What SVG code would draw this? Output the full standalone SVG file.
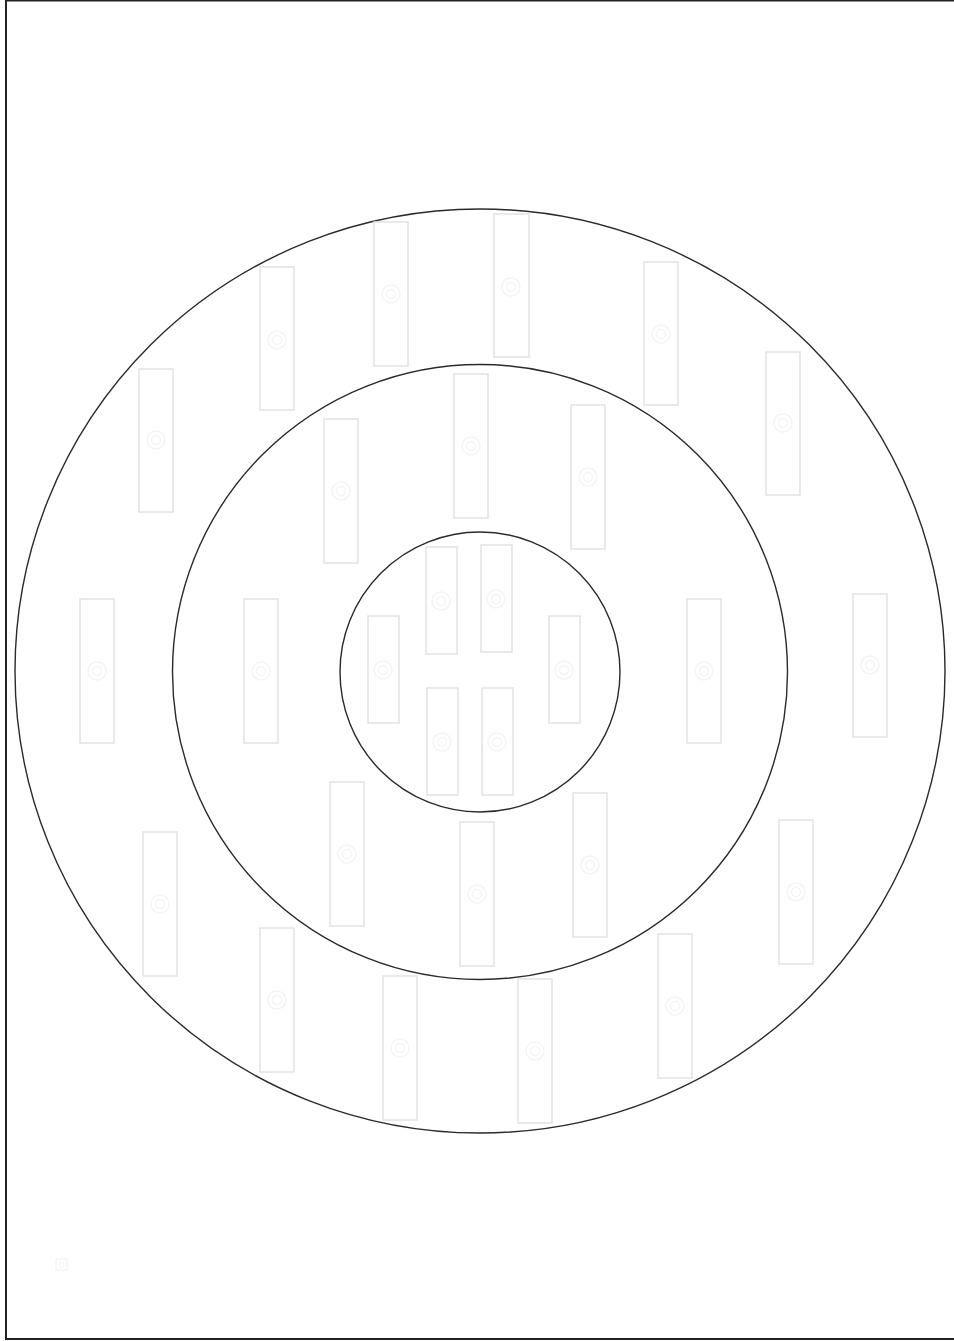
<svg xmlns="http://www.w3.org/2000/svg" width="954" height="1341" viewBox="0 0 954 1341">
<defs>
<style>
.ring{fill:none;stroke:#2a2a2a;stroke-width:1.4}
.card{fill:#fff;stroke:#e2e2e2;stroke-width:1.5}
.ico{fill:none;stroke:#f4f4f4;stroke-width:1.5}
</style>
<g id="icon">
<circle class="ico" cx="0" cy="0" r="9"/>
<circle class="ico" cx="0" cy="0" r="4.5"/>
</g>
</defs>
<rect width="954" height="1341" fill="#fff"/>
<rect x="6" y="0.5" width="960" height="1338.5" fill="none" stroke="#222" stroke-width="2"/>
<g id="rings">
<ellipse class="ring" cx="480" cy="671" rx="465" ry="462"/>
<circle class="ring" cx="480" cy="672" r="307.5"/>
<circle class="ring" cx="480" cy="672" r="140"/>
</g>
<g id="connectors"></g>
<g id="n1"><rect class="card" x="139" y="369" width="34" height="143"/><use href="#icon" x="156" y="440"/></g>
<g id="n2"><rect class="card" x="260" y="267" width="34" height="143"/><use href="#icon" x="277" y="340"/></g>
<g id="n3"><rect class="card" x="374" y="222" width="34" height="144"/><use href="#icon" x="391" y="294"/></g>
<g id="n4"><rect class="card" x="494" y="214" width="35" height="143"/><use href="#icon" x="511" y="287"/></g>
<g id="n5"><rect class="card" x="644" y="262" width="34" height="143"/><use href="#icon" x="661" y="334"/></g>
<g id="n6"><rect class="card" x="766" y="352" width="34" height="143"/><use href="#icon" x="783" y="423"/></g>
<g id="n7"><rect class="card" x="80" y="599" width="34" height="144"/><use href="#icon" x="97" y="671"/></g>
<g id="n8"><rect class="card" x="853" y="594" width="34" height="143"/><use href="#icon" x="870" y="665"/></g>
<g id="n9"><rect class="card" x="143" y="832" width="34" height="144"/><use href="#icon" x="160" y="904"/></g>
<g id="n10"><rect class="card" x="260" y="928" width="34" height="144"/><use href="#icon" x="277" y="1000"/></g>
<g id="n11"><rect class="card" x="383" y="976" width="34" height="144"/><use href="#icon" x="400" y="1048"/></g>
<g id="n12"><rect class="card" x="518" y="979" width="34" height="144"/><use href="#icon" x="535" y="1051"/></g>
<g id="n13"><rect class="card" x="658" y="934" width="34" height="144"/><use href="#icon" x="675" y="1006"/></g>
<g id="n14"><rect class="card" x="779" y="820" width="34" height="144"/><use href="#icon" x="796" y="892"/></g>
<g id="n15"><rect class="card" x="324" y="419" width="34" height="144"/><use href="#icon" x="341" y="491"/></g>
<g id="n16"><rect class="card" x="454" y="374" width="34" height="144"/><use href="#icon" x="471" y="446"/></g>
<g id="n17"><rect class="card" x="571" y="405" width="34" height="144"/><use href="#icon" x="588" y="477"/></g>
<g id="n18"><rect class="card" x="244" y="599" width="34" height="144"/><use href="#icon" x="261" y="671"/></g>
<g id="n19"><rect class="card" x="687" y="599" width="34" height="144"/><use href="#icon" x="704" y="671"/></g>
<g id="n20"><rect class="card" x="330" y="782" width="34" height="144"/><use href="#icon" x="347" y="854"/></g>
<g id="n21"><rect class="card" x="460" y="822" width="34" height="144"/><use href="#icon" x="477" y="894"/></g>
<g id="n22"><rect class="card" x="573" y="793" width="34" height="144"/><use href="#icon" x="590" y="865"/></g>
<g id="n23"><rect class="card" x="426" y="547" width="31" height="107"/><use href="#icon" x="441" y="601"/></g>
<g id="n24"><rect class="card" x="481" y="545" width="31" height="107"/><use href="#icon" x="496" y="599"/></g>
<g id="n25"><rect class="card" x="368" y="616" width="31" height="107"/><use href="#icon" x="383" y="670"/></g>
<g id="n26"><rect class="card" x="549" y="616" width="31" height="107"/><use href="#icon" x="564" y="670"/></g>
<g id="n27"><rect class="card" x="427" y="688" width="31" height="107"/><use href="#icon" x="442" y="742"/></g>
<g id="n28"><rect class="card" x="482" y="688" width="31" height="107"/><use href="#icon" x="497" y="742"/></g>
<g id="corner-icon"><rect x="56" y="1259" width="11" height="11" fill="none" stroke="#f5f5f5" stroke-width="1.5"/><circle cx="61.5" cy="1264.5" r="2.5" fill="none" stroke="#f5f5f5"/></g>
</svg>
